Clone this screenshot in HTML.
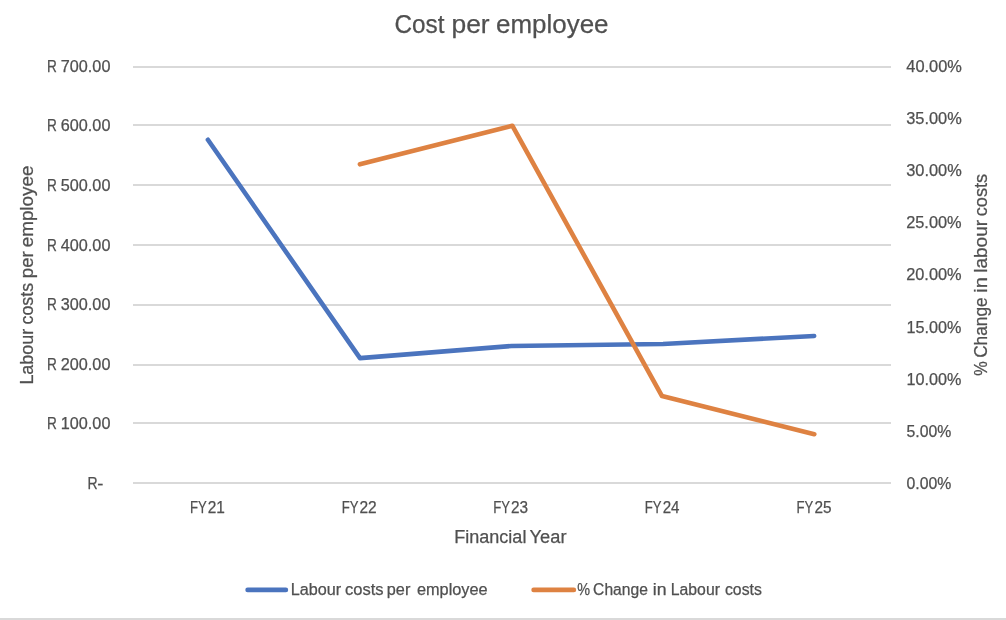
<!DOCTYPE html>
<html lang="en">
<head>
<meta charset="utf-8">
<title>Cost per employee</title>
<style>
html,body{margin:0;padding:0;background:#fff;}
body{width:1006px;height:620px;overflow:hidden;position:relative;font-family:"Liberation Sans",sans-serif;}
svg{position:absolute;left:0;top:0;display:block;}
svg text{font-family:"Liberation Sans",sans-serif;fill:#505050;stroke:#505050;stroke-width:0.25px;stroke-linejoin:round;white-space:pre;}
.bottom{position:absolute;left:0;top:618px;width:1006px;height:2px;background:#d9d9d9;}
</style>
</head>
<body>
<svg width="1006" height="620" viewBox="0 0 1006 620">
<rect x="133" y="66" width="758" height="2" fill="#d9d9d9"/>
<rect x="133" y="124" width="758" height="2" fill="#d9d9d9"/>
<rect x="133" y="184" width="758" height="2" fill="#d9d9d9"/>
<rect x="133" y="244" width="758" height="2" fill="#d9d9d9"/>
<rect x="133" y="304" width="758" height="2" fill="#d9d9d9"/>
<rect x="133" y="364" width="758" height="2" fill="#d9d9d9"/>
<rect x="133" y="422" width="758" height="2" fill="#d9d9d9"/>
<rect x="133" y="482" width="758" height="2" fill="#d9d9d9"/>
<text y="72" font-size="16.0"><tspan x="46.91" textLength="9.83" lengthAdjust="spacingAndGlyphs">R</tspan> <tspan x="60.79" textLength="49.63" lengthAdjust="spacingAndGlyphs">700.00</tspan></text>
<text y="131" font-size="16.0"><tspan x="46.91" textLength="9.83" lengthAdjust="spacingAndGlyphs">R</tspan> <tspan x="60.79" textLength="49.63" lengthAdjust="spacingAndGlyphs">600.00</tspan></text>
<text y="191" font-size="16.0"><tspan x="46.91" textLength="9.83" lengthAdjust="spacingAndGlyphs">R</tspan> <tspan x="60.79" textLength="49.63" lengthAdjust="spacingAndGlyphs">500.00</tspan></text>
<text y="251" font-size="16.0"><tspan x="46.91" textLength="9.83" lengthAdjust="spacingAndGlyphs">R</tspan> <tspan x="60.79" textLength="49.63" lengthAdjust="spacingAndGlyphs">400.00</tspan></text>
<text y="310" font-size="16.0"><tspan x="46.91" textLength="9.83" lengthAdjust="spacingAndGlyphs">R</tspan> <tspan x="60.79" textLength="49.63" lengthAdjust="spacingAndGlyphs">300.00</tspan></text>
<text y="370" font-size="16.0"><tspan x="46.91" textLength="9.83" lengthAdjust="spacingAndGlyphs">R</tspan> <tspan x="60.79" textLength="49.63" lengthAdjust="spacingAndGlyphs">200.00</tspan></text>
<text y="429" font-size="16.0"><tspan x="46.91" textLength="9.83" lengthAdjust="spacingAndGlyphs">R</tspan> <tspan x="60.79" textLength="49.63" lengthAdjust="spacingAndGlyphs">100.00</tspan></text>
<text y="489" font-size="16.0"><tspan x="87.53" textLength="10.13" lengthAdjust="spacingAndGlyphs">R</tspan><tspan x="97.37" textLength="6.12" lengthAdjust="spacingAndGlyphs">-</tspan></text>
<text y="72" font-size="16.0"><tspan x="906.29" textLength="55.61" lengthAdjust="spacingAndGlyphs">40.00%</tspan></text>
<text y="124" font-size="16.0"><tspan x="906.24" textLength="55.56" lengthAdjust="spacingAndGlyphs">35.00%</tspan></text>
<text y="176" font-size="16.0"><tspan x="906.24" textLength="55.56" lengthAdjust="spacingAndGlyphs">30.00%</tspan></text>
<text y="228" font-size="16.0"><tspan x="906.18" textLength="55.42" lengthAdjust="spacingAndGlyphs">25.00%</tspan></text>
<text y="280" font-size="16.0"><tspan x="906.18" textLength="55.42" lengthAdjust="spacingAndGlyphs">20.00%</tspan></text>
<text y="333" font-size="16.0"><tspan x="906.49" textLength="54.91" lengthAdjust="spacingAndGlyphs">15.00%</tspan></text>
<text y="385" font-size="16.0"><tspan x="906.49" textLength="54.91" lengthAdjust="spacingAndGlyphs">10.00%</tspan></text>
<text y="437" font-size="16.0"><tspan x="906.47" textLength="44.79" lengthAdjust="spacingAndGlyphs">5.00%</tspan></text>
<text y="489" font-size="16.0"><tspan x="906.47" textLength="44.79" lengthAdjust="spacingAndGlyphs">0.00%</tspan></text>
<text y="513" font-size="16.0"><tspan x="189.95" textLength="16.8" lengthAdjust="spacingAndGlyphs">FY</tspan><tspan x="207.78" textLength="17.15" lengthAdjust="spacingAndGlyphs">21</tspan></text>
<text y="513" font-size="16.0"><tspan x="341.65" textLength="16.8" lengthAdjust="spacingAndGlyphs">FY</tspan><tspan x="359.48" textLength="17.24" lengthAdjust="spacingAndGlyphs">22</tspan></text>
<text y="513" font-size="16.0"><tspan x="493.15" textLength="16.8" lengthAdjust="spacingAndGlyphs">FY</tspan><tspan x="510.98" textLength="17.07" lengthAdjust="spacingAndGlyphs">23</tspan></text>
<text y="513" font-size="16.0"><tspan x="644.85" textLength="16.8" lengthAdjust="spacingAndGlyphs">FY</tspan><tspan x="662.69" textLength="16.82" lengthAdjust="spacingAndGlyphs">24</tspan></text>
<text y="513" font-size="16.0"><tspan x="796.55" textLength="16.8" lengthAdjust="spacingAndGlyphs">FY</tspan><tspan x="814.38" textLength="17.07" lengthAdjust="spacingAndGlyphs">25</tspan></text>
<text y="33" font-size="26.0"><tspan x="394.49" textLength="49.97" lengthAdjust="spacingAndGlyphs">Cost</tspan> <tspan x="451.49" textLength="38.12" lengthAdjust="spacingAndGlyphs">per</tspan> <tspan x="496.03" textLength="112.46" lengthAdjust="spacingAndGlyphs">employee</tspan></text>
<text y="543" font-size="17.5"><tspan x="454.16" textLength="72.25" lengthAdjust="spacingAndGlyphs">Financial</tspan> <tspan x="529.64" textLength="36.84" lengthAdjust="spacingAndGlyphs">Year</tspan></text>
<text transform="rotate(-90)" y="33.3" font-size="17.5"><tspan x="-384.64" textLength="55.89" lengthAdjust="spacingAndGlyphs">Labour</tspan> <tspan x="-324.5" textLength="41.6" lengthAdjust="spacingAndGlyphs">costs</tspan> <tspan x="-278.27" textLength="27.05" lengthAdjust="spacingAndGlyphs">per</tspan> <tspan x="-247.25" textLength="81.61" lengthAdjust="spacingAndGlyphs">employee</tspan></text>
<text transform="rotate(-90)" y="986.9" font-size="17.5"><tspan x="-375.67" textLength="14.53" lengthAdjust="spacingAndGlyphs">%</tspan> <tspan x="-357.86" textLength="60.51" lengthAdjust="spacingAndGlyphs">Change</tspan> <tspan x="-292.81" textLength="15.69" lengthAdjust="spacingAndGlyphs">in</tspan> <tspan x="-272.84" textLength="52.92" lengthAdjust="spacingAndGlyphs">labour</tspan> <tspan x="-216.32" textLength="42.43" lengthAdjust="spacingAndGlyphs">costs</tspan></text>
<polyline fill="none" stroke="#4b74be" stroke-width="4.6" stroke-linecap="round" stroke-linejoin="round" points="207.9,139.8 360.0,358.1 511.6,346 663,344 814.2,336"/>
<polyline fill="none" stroke="#de8242" stroke-width="4.6" stroke-linecap="round" stroke-linejoin="round" points="359.9,164.3 512.3,125.7 662.0,396.1 814.3,434.2"/>
<line x1="247.6" y1="589.9" x2="285.9" y2="589.9" stroke="#4b74be" stroke-width="4.6" stroke-linecap="round"/>
<text y="595" font-size="15.6"><tspan x="290.8" textLength="50.42" lengthAdjust="spacingAndGlyphs">Labour</tspan> <tspan x="344.96" textLength="38.59" lengthAdjust="spacingAndGlyphs">costs</tspan> <tspan x="386.84" textLength="23.51" lengthAdjust="spacingAndGlyphs">per</tspan> <tspan x="416.97" textLength="70.68" lengthAdjust="spacingAndGlyphs">employee</tspan></text>
<line x1="533.6" y1="589.9" x2="573.9" y2="589.9" stroke="#de8242" stroke-width="4.6" stroke-linecap="round"/>
<text y="595" font-size="15.6"><tspan x="577.2" textLength="12.8" lengthAdjust="spacingAndGlyphs">%</tspan> <tspan x="593.12" textLength="54.75" lengthAdjust="spacingAndGlyphs">Change</tspan> <tspan x="652.85" textLength="13.77" lengthAdjust="spacingAndGlyphs">in</tspan> <tspan x="670.84" textLength="49.08" lengthAdjust="spacingAndGlyphs">Labour</tspan> <tspan x="724.99" textLength="36.83" lengthAdjust="spacingAndGlyphs">costs</tspan></text>
</svg>
<div class="bottom"></div>
</body>
</html>
